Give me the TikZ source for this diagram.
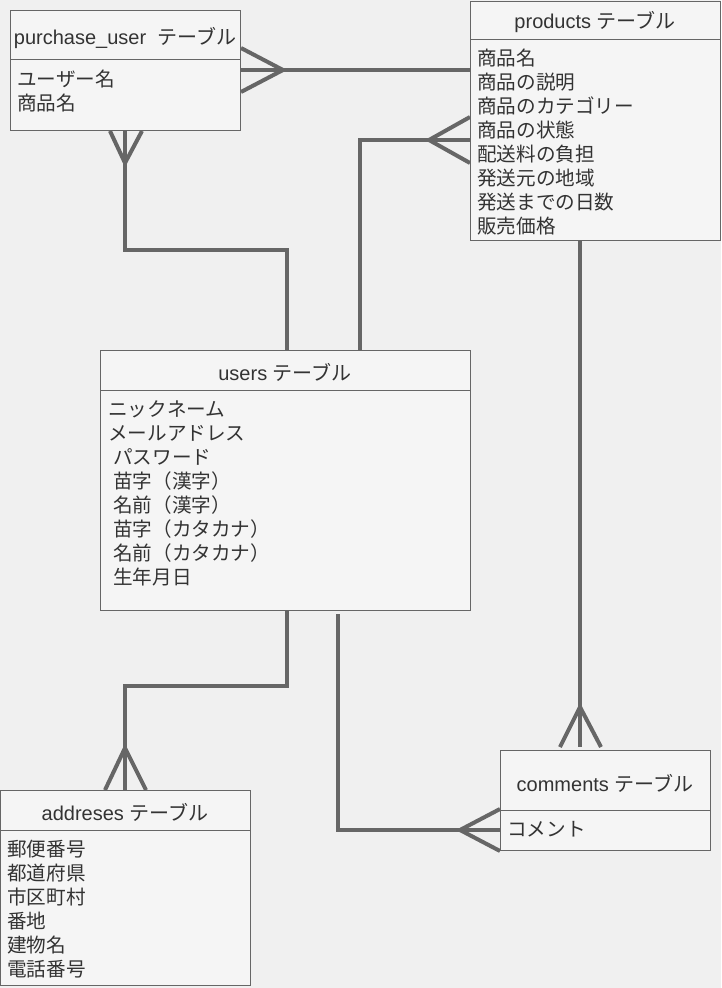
\documentclass[tikz,border=0pt]{standalone}
\usepackage{fontspec}
\setmainfont{Noto Sans CJK JP}
\newfontfamily\latfont{Liberation Sans}
\usetikzlibrary{calc}
\definecolor{bgc}{HTML}{F0F0F0}
\definecolor{boxc}{HTML}{F5F5F5}
\definecolor{linec}{HTML}{666666}
\definecolor{txtc}{HTML}{333333}
\tikzset{
  tbl/.style 2 args={draw=linec, fill=boxc, line width=0.75pt, inner sep=0pt, anchor=north west,
    minimum width=#1*0.75pt, minimum height=#2*0.75pt},
  sepline/.style={draw=linec, line width=0.75pt},
  conn/.style={draw=linec, line width=3pt},
  foot/.style={draw=linec, line width=3pt},
  ttl/.style={anchor=base, inner sep=0pt, text=txtc, font=\fontsize{15}{18}\selectfont},
  rowtxt/.style={anchor=base west, inner sep=0pt, text=txtc, font=\fontsize{14.7}{18}\selectfont},
}
\begin{document}
\begin{tikzpicture}[x=0.75pt,y=-0.75pt]
\fill[bgc] (0,0) rectangle (721,988);
\useasboundingbox (0,0) rectangle (721,988);

% tables
\node[tbl={230}{120}] (pu) at (10,10) {};
\node[tbl={250}{239}] (pr) at (470,1) {};
\node[tbl={370}{260}] (us) at (100,350) {};
\node[tbl={250}{195}] (ad) at (0,790) {};
\node[tbl={210}{100}] (cm) at (500,750) {};

% header dividers
\draw[sepline] ($(pu.north west)+(0,50)$) -- ($(pu.north east)+(0,50)$);
\draw[sepline] ($(pr.north west)+(0,39)$) -- ($(pr.north east)+(0,39)$);
\draw[sepline] ($(us.north west)+(0,40)$) -- ($(us.north east)+(0,40)$);
\draw[sepline] ($(ad.north west)+(0,40)$) -- ($(ad.north east)+(0,40)$);
\draw[sepline] ($(cm.north west)+(0,60)$) -- ($(cm.north east)+(0,60)$);

% titles
\node[ttl] (put) at (125,45) {{\latfont purchase\_user\ \ }テーブル};
\node[ttl] (prt) at (595,29) {{\latfont products }テーブル};
\node[ttl] (ust) at (285,380) {{\latfont users }テーブル};
\node[ttl] (adt) at (125,820) {{\latfont addreses }テーブル};
\node[ttl] (cmt) at (605,791) {{\latfont comments }テーブル};

% rows
\node[rowtxt] (pu0) at (17,86.5) {ユーザー名};
\node[rowtxt] (pu1) at (17,110.5) {商品名};

\foreach \t [count=\i from 0] in {商品名,商品の説明,商品のカテゴリー,商品の状態,配送料の負担,発送元の地域,発送までの日数,販売価格}
  \node[rowtxt] (pr\i) at (477,{65.5+24*\i}) {\t};

\node[rowtxt] (us0) at (108,416.5) {ニックネーム};
\node[rowtxt] (us1) at (108,440.5) {メールアドレス};
\foreach \t [count=\i from 2] in {パスワード,苗字（漢字）,名前（漢字）,苗字（カタカナ）,名前（カタカナ）,生年月日}
  \node[rowtxt] (us\i) at (113,{416.5+24*\i}) {\t};

\foreach \t [count=\i from 0] in {郵便番号,都道府県,市区町村,番地,建物名,電話番号}
  \node[rowtxt] (ad\i) at (7,{856.5+24*\i}) {\t};

\node[rowtxt] (cm0) at (507,836.5) {コメント};

% connectors
% purchase_user -- products
\draw[conn] ($(pu.north east)+(0,60)$) -- ($(pr.north west)+(0,69)$);
\draw[foot] ($(pu.north east)+(0,38)$) -- ($(pu.north east)+(42,60)$) -- ($(pu.north east)+(0,82)$);

% purchase_user -- users
\draw[conn] ($(pu.south west)+(115,0)$) |- ($(us.north west)+(187,-100)$) -- ($(us.north west)+(187,0)$);
\draw[foot] ($(pu.south west)+(100,0)$) -- ($(pu.south west)+(115,32)$) -- ($(pu.south west)+(132,0)$);

% users -- products
\draw[conn] ($(us.north west)+(260,0)$) |- ($(pr.north west)+(0,139)$);
\draw[foot] ($(pr.north west)+(0,116)$) -- ($(pr.north west)+(-41,139)$) -- ($(pr.north west)+(0,162)$);

% products -- comments
\draw[conn] ($(pr.south west)+(110,0)$) -- ($(cm.north west)+(80,-3)$);
\draw[foot] ($(cm.north west)+(60,-3)$) -- ($(cm.north west)+(80,-43)$) -- ($(cm.north west)+(101,-3)$);

% users -- addreses
\draw[conn] ($(us.south west)+(187,0)$) -- ($(us.south west)+(187,75)$) -| ($(ad.north west)+(125,0)$);
\draw[foot] ($(ad.north west)+(105,0)$) -- ($(ad.north west)+(125,-42)$) -- ($(ad.north west)+(146,0)$);

% users -- comments
\draw[conn] ($(us.south west)+(238,3)$) |- ($(cm.north west)+(0,80)$);
\draw[foot] ($(cm.north west)+(0,59)$) -- ($(cm.north west)+(-40,80)$) -- ($(cm.north west)+(0,101)$);
\end{tikzpicture}
\end{document}
